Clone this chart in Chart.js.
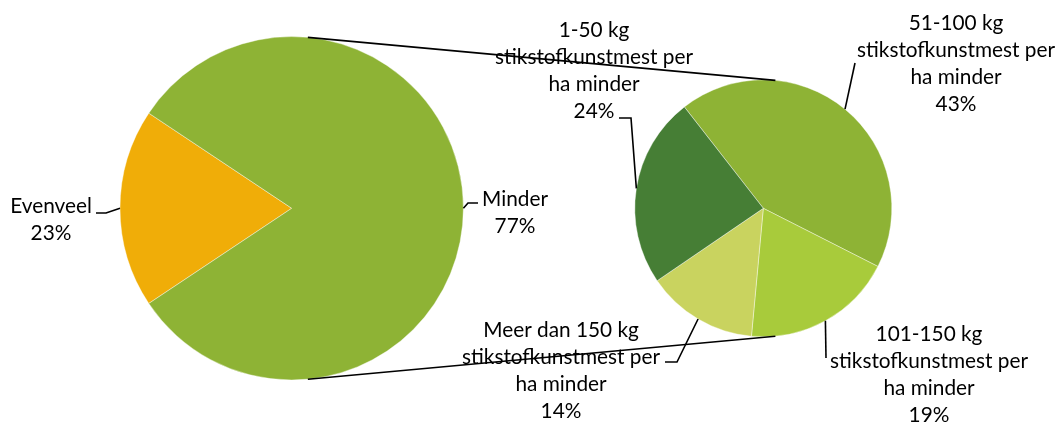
<!DOCTYPE html>
<html>
<head>
<meta charset="utf-8">
<title>Stikstofkunstmest</title>
<script src="https://cdn.jsdelivr.net/npm/chart.js@4"></script>
<style>
  body { margin: 0; background: #fff; }
  #wrap { position: relative; width: 1063px; height: 423px; }
  #wrap canvas { position: absolute; left: 0; top: 0; }
</style>
</head>
<body>
<div id="wrap">
  <canvas id="main-pie" width="1063" height="423"></canvas>
  <canvas id="sub-pie" width="1063" height="423"></canvas>
</div>
<script>
// Data — main pie (Evenveel vs Minder), second pie splits "Minder"
const mainLabels = ['Evenveel', 'Minder'];
const mainPercents = [23, 77];
const evenveelValue = 23;

const subLabels = [
  ['51-100 kg', 'stikstofkunstmest per', 'ha minder'],
  ['101-150 kg', 'stikstofkunstmest per', 'ha minder'],
  ['Meer dan 150 kg', 'stikstofkunstmest per', 'ha minder'],
  ['1-50 kg', 'stikstofkunstmest per', 'ha minder'],
];
const subValues = [43, 19, 14, 24];

const mainColors = ['#F0AD08', '#8EB335'];
const subColors = ['#8EB335', '#A8CB3B', '#C9D35F', '#467E35'];

// the "Minder" slice is the sum of the second pie
const mainValues = [evenveelValue, subValues.reduce((a, b) => a + b, 0)];

// Label placement (centre x, first baseline) and leader-line bends
const LINE_H = 27;
const mainLayout = [
  { x: 51, y: 213, leader: [[106, 213], [96, 213]] },
  { x: 515, y: 206, leader: [[468, 203], [478, 203]] },
];
const subLayout = [
  { x: 956, y: 30, leader: [[855, 63]] },
  { x: 929, y: 341, leader: [[826, 358]] },
  { x: 561, y: 337, leader: [[677, 362], [665, 362]] },
  { x: 594, y: 37, leader: [[631, 118], [619, 118]] },
];
const CONNECTOR_DEG = 5.4;

// Pick a Lato size whose width matches the reference text
function fitFontSize() {
  const c = document.createElement('canvas').getContext('2d');
  c.font = '22px Lato';
  const w = c.measureText('stikstofkunstmest per').width;
  return Math.round(22 * 198 / w * 10) / 10;
}
const FONT = `${fitFontSize()}px Lato, "Open Sans", sans-serif`;

const evenShare = mainValues[0] / (mainValues[0] + mainValues[1]);

const mainChart = new Chart(document.getElementById('main-pie'), {
  type: 'pie',
  data: {
    labels: mainLabels,
    datasets: [{
      data: mainValues,
      backgroundColor: mainColors,
      borderColor: '#ffffff',
      borderWidth: 0.4,
    }],
  },
  options: {
    responsive: false,
    animation: false,
    events: [],
    radius: 171.7,
    rotation: 270 - evenShare * 180,
    layout: { padding: { left: 0, right: 479.6, top: 0, bottom: 6.4 } },
    plugins: { legend: { display: false }, tooltip: { enabled: false } },
  },
});

function arcMid(arc) {
  const a = (arc.startAngle + arc.endAngle) / 2;
  return [arc.x + arc.outerRadius * Math.cos(a), arc.y + arc.outerRadius * Math.sin(a)];
}

function edgePoint(arc, deg) {
  const a = (deg - 90) * Math.PI / 180;
  return [arc.x + arc.outerRadius * Math.cos(a), arc.y + arc.outerRadius * Math.sin(a)];
}

function drawLabel(ctx, lines, layout) {
  lines.forEach((t, i) => ctx.fillText(t, layout.x, layout.y + i * LINE_H));
}

const overlay = {
  id: 'pieOfPie',
  afterDraw(chart) {
    const ctx = chart.ctx;
    const bigArcs = mainChart.getDatasetMeta(0).data;
    const smallArcs = chart.getDatasetMeta(0).data;
    ctx.save();

    // text
    ctx.fillStyle = '#000';
    ctx.font = FONT;
    ctx.textAlign = 'center';
    ctx.textBaseline = 'alphabetic';
    mainLabels.forEach((l, i) => drawLabel(ctx, [l, mainPercents[i] + '%'], mainLayout[i]));
    subLabels.forEach((l, i) => drawLabel(ctx, [...l, subValues[i] + '%'], subLayout[i]));

    // leader lines
    ctx.strokeStyle = '#000';
    ctx.lineWidth = 1.6;
    const leaders = (arcs, layout) => arcs.forEach((arc, i) => {
      const [sx, sy] = arcMid(arc);
      ctx.beginPath();
      ctx.moveTo(sx, sy);
      layout[i].leader.forEach(([x, y]) => ctx.lineTo(x, y));
      ctx.stroke();
    });
    leaders(bigArcs, mainLayout);
    leaders(smallArcs, subLayout);

    // connector lines between the pies
    const big = bigArcs[0];
    const small = smallArcs[0];
    ctx.lineWidth = 1.6;
    [CONNECTOR_DEG, 180 - CONNECTOR_DEG].forEach((deg) => {
      const [x1, y1] = edgePoint(big, deg);
      const [x2, y2] = edgePoint(small, deg);
      ctx.beginPath();
      ctx.moveTo(x1, y1);
      ctx.lineTo(x2, y2);
      ctx.stroke();
    });
    ctx.restore();
  },
};

new Chart(document.getElementById('sub-pie'), {
  type: 'pie',
  data: {
    labels: subLabels.map((l) => l.join(' ')),
    datasets: [{
      data: subValues,
      backgroundColor: subColors,
      borderColor: '#ffffff',
      borderWidth: 0.4,
    }],
  },
  options: {
    responsive: false,
    animation: false,
    events: [],
    radius: 128.5,
    rotation: -37.9,
    layout: { padding: { left: 463.6, right: 0, top: 0, bottom: 6.4 } },
    plugins: { legend: { display: false }, tooltip: { enabled: false } },
  },
  plugins: [overlay],
});
</script>
</body>
</html>
